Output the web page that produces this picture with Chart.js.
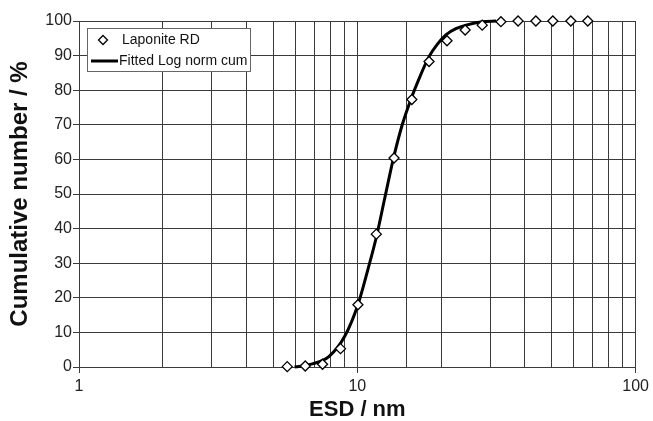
<!DOCTYPE html>
<html>
<head>
<meta charset="utf-8">
<script src="https://cdn.jsdelivr.net/npm/chart.js@4"></script>
<style>
  html, body { margin: 0; padding: 0; background: #fff; }
  #wrap { width: 653px; height: 421px; }
</style>
</head>
<body>
<div id="wrap"><canvas id="myChart" width="653" height="421"></canvas></div>
<script>
// measured points (Laponite RD)
const esd = [5.6, 6.5, 7.5, 8.7, 10.05, 11.7, 13.55, 15.7, 18.1, 21.0, 24.4, 28.1, 32.8, 37.8, 43.8, 50.4, 58.5, 67.3];
const cumulative = [0.1, 0.3, 0.8, 5.3, 18, 38.4, 60.4, 77.3, 88.3, 94.3, 97.4, 98.8, 99.8, 100, 100, 100, 100, 100];

// fitted log-normal cumulative curve
const fitEsd = [5.95, 6.9, 7.9, 9.0, 10.05, 10.9, 11.7, 12.6, 13.5, 14.5, 15.6, 16.8, 18.1, 19.4, 20.8, 22.6, 24.6, 28.1, 31.5];
const fitCum = [0, 0.9, 3, 8.8, 18, 28, 37.5, 49.5, 60.5, 70, 77.5, 84, 89.7, 93.3, 96, 97.8, 98.8, 99.8, 100];

const xTickLabels = [1, 10, 100];
const yTicks = [0, 10, 20, 30, 40, 50, 60, 70, 80, 90, 100];

const seriesNames = ['Laponite RD', 'Fitted Log norm cum'];

const gridCol = '#3a3a3a';
const tickFont = { family: 'Liberation Sans, Arial, sans-serif', size: 16 };

// legend box drawn inside the plot, top-left
const insideLegend = {
    id: 'insideLegend',
    afterDraw(chart) {
        const c = chart.ctx;
        const a = chart.chartArea;
        const x0 = a.left + 8, y0 = a.top + 7;
        const w = 163, h = 43;
        c.save();
        c.fillStyle = '#fff';
        c.fillRect(x0, y0, w, h);
        c.strokeStyle = '#666';
        c.lineWidth = 1;
        c.strokeRect(x0 + 0.5, y0 + 0.5, w, h);

        // diamond
        const dx = x0 + 16, dy = y0 + 12;
        c.beginPath();
        c.moveTo(dx, dy - 4.5);
        c.lineTo(dx + 4.5, dy);
        c.lineTo(dx, dy + 4.5);
        c.lineTo(dx - 4.5, dy);
        c.closePath();
        c.fillStyle = '#fff';
        c.fill();
        c.strokeStyle = '#000';
        c.lineWidth = 1.3;
        c.stroke();

        // line sample
        const ly = y0 + 33;
        c.beginPath();
        c.moveTo(x0 + 4, ly);
        c.lineTo(x0 + 31, ly);
        c.lineWidth = 3;
        c.stroke();

        c.fillStyle = '#111';
        c.font = '14px "Liberation Sans", Arial, sans-serif';
        c.textBaseline = 'middle';
        c.fillText(seriesNames[0], x0 + 35, dy);
        c.fillText(seriesNames[1], x0 + 32, ly);
        c.restore();
    }
};

const whiteBg = {
    id: 'whiteBg',
    beforeDraw(chart) {
        const c = chart.ctx;
        c.save();
        c.fillStyle = '#fff';
        c.fillRect(0, 0, chart.width, chart.height);
        c.restore();
    }
};

const ctx = document.getElementById('myChart').getContext('2d');
const myChart = new Chart(ctx, {
    type: 'scatter',
    data: {
        datasets: [
            {
                label: seriesNames[1],
                data: fitEsd.map((x, i) => ({ x: x, y: fitCum[i] })),
                showLine: true,
                borderColor: '#000',
                borderWidth: 3,
                pointRadius: 0,
                cubicInterpolationMode: 'monotone',
                clip: 4,
                order: 2
            },
            {
                label: seriesNames[0],
                data: esd.map((x, i) => ({ x: x, y: cumulative[i] })),
                pointStyle: 'rectRot',
                pointRadius: 5,
                pointBackgroundColor: '#fff',
                pointBorderColor: '#000',
                pointBorderWidth: 1.3,
                clip: false,
                order: 1
            }
        ]
    },
    options: {
        responsive: false,
        animation: false,
        layout: { padding: { top: 21, right: 16, left: 0, bottom: 0 } },
        plugins: {
            legend: { display: false },
            tooltip: { enabled: false }
        },
        scales: {
            x: {
                type: 'logarithmic',
                min: 1,
                max: 100,
                afterFit(scale) { scale.height = 54; },
                grid: {
                    color: gridCol,
                    lineWidth: 1,
                    tickLength: 6,
                    tickColor: (c) => (c.tick && xTickLabels.includes(c.tick.value)) ? gridCol : 'rgba(0,0,0,0)'
                },
                border: { color: gridCol, width: 1 },
                ticks: {
                    autoSkip: false,
                    maxRotation: 0,
                    padding: 4,
                    color: '#222',
                    font: tickFont,
                    callback: (v) => xTickLabels.includes(v) ? String(v) : ''
                },
                title: {
                    display: true,
                    text: 'ESD / nm',
                    color: '#111',
                    font: { family: 'Liberation Sans, Arial, sans-serif', size: 22, weight: 'bold', lineHeight: 1 },
                    padding: 0
                }
            },
            y: {
                min: 0,
                max: 100,
                afterFit(scale) { scale.width = 79; },
                afterBuildTicks(scale) { scale.ticks = yTicks.map(v => ({ value: v })); },
                grid: { color: gridCol, lineWidth: 1, tickLength: 6 },
                border: { color: gridCol, width: 1 },
                ticks: {
                    padding: 1,
                    color: '#222',
                    font: tickFont
                },
                title: {
                    display: true,
                    text: 'Cumulative number / %',
                    color: '#111',
                    font: { family: 'Liberation Sans, Arial, sans-serif', size: 24, weight: 'bold', lineHeight: 1 },
                    padding: { top: 8, bottom: 0 }
                }
            }
        }
    },
    plugins: [whiteBg, insideLegend]
});
</script>
</body>
</html>
